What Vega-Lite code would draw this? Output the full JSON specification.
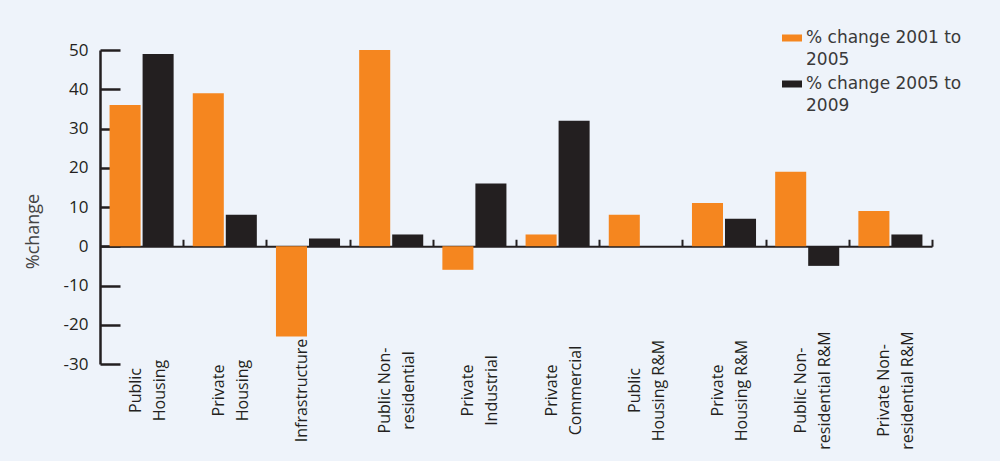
{
  "$schema": "https://vega.github.io/schema/vega-lite/v6.json",
  "width": 832,
  "height": 314,
  "autosize": {"type": "none"},
  "padding": {"left": 100, "top": 50, "right": 68, "bottom": 97},
  "background": "#eef3fa",
  "config": {
    "view": {"stroke": null},
    "font": "DejaVu Sans"
  },
  "data": {
    "values": [
      {"category": "Public Housing", "series": "% change 2001 to 2005", "value": 36},
      {"category": "Public Housing", "series": "% change 2005 to 2009", "value": 49},
      {"category": "Private Housing", "series": "% change 2001 to 2005", "value": 39},
      {"category": "Private Housing", "series": "% change 2005 to 2009", "value": 8},
      {"category": "Infrastructure", "series": "% change 2001 to 2005", "value": -23},
      {"category": "Infrastructure", "series": "% change 2005 to 2009", "value": 2},
      {"category": "Public Non-residential", "series": "% change 2001 to 2005", "value": 50},
      {"category": "Public Non-residential", "series": "% change 2005 to 2009", "value": 3},
      {"category": "Private Industrial", "series": "% change 2001 to 2005", "value": -6},
      {"category": "Private Industrial", "series": "% change 2005 to 2009", "value": 16},
      {"category": "Private Commercial", "series": "% change 2001 to 2005", "value": 3},
      {"category": "Private Commercial", "series": "% change 2005 to 2009", "value": 32},
      {"category": "Public Housing R&M", "series": "% change 2001 to 2005", "value": 8},
      {"category": "Public Housing R&M", "series": "% change 2005 to 2009", "value": 0},
      {"category": "Private Housing R&M", "series": "% change 2001 to 2005", "value": 11},
      {"category": "Private Housing R&M", "series": "% change 2005 to 2009", "value": 7},
      {"category": "Public Non-residential R&M", "series": "% change 2001 to 2005", "value": 19},
      {"category": "Public Non-residential R&M", "series": "% change 2005 to 2009", "value": -5},
      {"category": "Private Non-residential R&M", "series": "% change 2001 to 2005", "value": 9},
      {"category": "Private Non-residential R&M", "series": "% change 2005 to 2009", "value": 3}
    ]
  },
  "layer": [
    {
      "mark": {"type": "bar"},
      "encoding": {
        "x": {
          "field": "category",
          "type": "nominal",
          "sort": null,
          "scale": {"paddingInner": 0.23, "paddingOuter": 0.115},
          "axis": {
            "title": null,
            "orient": "bottom",
            "domain": false,
            "ticks": false,
            "labelAngle": -90,
            "labelAlign": "center",
            "labelBaseline": "middle",
            "labelPadding": 26,
            "labelOffset": -6,
            "labelFont": "Open Sans",
            "labelFontSize": 16,
            "labelLineHeight": 24,
            "labelColor": "#231f20",
            "labelLimit": 200,
            "labelExpr": "datum.label == 'Public Housing' ? ['Public', 'Housing'] : datum.label == 'Private Housing' ? ['Private', 'Housing'] : datum.label == 'Public Non-residential' ? ['Public Non-', 'residential'] : datum.label == 'Private Industrial' ? ['Private', 'Industrial'] : datum.label == 'Private Commercial' ? ['Private', 'Commercial'] : datum.label == 'Public Housing R&M' ? ['Public', 'Housing R&M'] : datum.label == 'Private Housing R&M' ? ['Private', 'Housing R&M'] : datum.label == 'Public Non-residential R&M' ? ['Public Non-', 'residential R&M'] : datum.label == 'Private Non-residential R&M' ? ['Private Non-', 'residential R&M'] : datum.label"
          }
        },
        "xOffset": {
          "field": "series",
          "type": "nominal",
          "scale": {"paddingInner": 0.06}
        },
        "y": {
          "field": "value",
          "type": "quantitative",
          "scale": {"domain": [-30, 50], "nice": false},
          "axis": {
            "title": "%change",
            "titleFont": "Open Sans",
            "titleFontSize": 18,
            "titleFontWeight": "normal",
            "titleColor": "#444444",
            "titlePadding": 21,
            "titleY": 181,
            "values": [-30, -20, -10, 0, 10, 20, 30, 40, 50],
            "grid": false,
            "domainColor": "#231f20",
            "domainWidth": 2.5,
            "ticks": false,
            "labelPadding": 12,
            "labelFont": "Open Sans",
            "labelFontSize": 17,
            "labelColor": "#231f20",
            "labelExpr": "replace(datum.label, '−', '-')"
          }
        },
        "color": {
          "field": "series",
          "type": "nominal",
          "scale": {"range": ["#f5861f", "#231f20"]},
          "legend": {
            "title": null,
            "orient": "none",
            "legendX": 682,
            "legendY": -22,
            "symbolType": "M-1,-0.35L1,-0.35L1,0.35L-1,0.35Z",
            "symbolSize": 400,
            "symbolStrokeWidth": 0,
            "labelFont": "DejaVu Sans",
            "labelFontSize": 17,
            "labelColor": "#3a3a3a",
            "labelBaseline": "middle",
            "labelLimit": 300,
            "labelExpr": "[slice(datum.label, 0, 16), slice(datum.label, 17)]",
            "rowPadding": 6,
            "encode": {"labels": {"update": {"lineHeight": {"value": 22}}}}
          }
        }
      }
    },
    {
      "mark": {"type": "bar", "opacity": 0},
      "encoding": {
        "x": {
          "field": "category",
          "type": "nominal",
          "sort": null,
          "axis": {
            "title": null,
            "orient": "top",
            "offset": -196.25,
            "labels": false,
            "domainColor": "#231f20",
            "domainWidth": 2,
            "tickColor": "#231f20",
            "tickWidth": 2,
            "tickSize": 7,
            "bandPosition": 1,
            "tickOffset": 9.6
          }
        },
        "y": {
          "field": "value",
          "type": "quantitative",
          "axis": {
            "title": null,
            "orient": "right",
            "offset": -832,
            "values": [-30, -20, -10, 0, 10, 20, 30, 40, 50],
            "labels": false,
            "domain": false,
            "grid": false,
            "ticks": true,
            "tickColor": "#231f20",
            "tickWidth": 2.5,
            "tickSize": 20
          }
        }
      }
    }
  ],
  "resolve": {"axis": {"x": "independent", "y": "independent"}}
}
